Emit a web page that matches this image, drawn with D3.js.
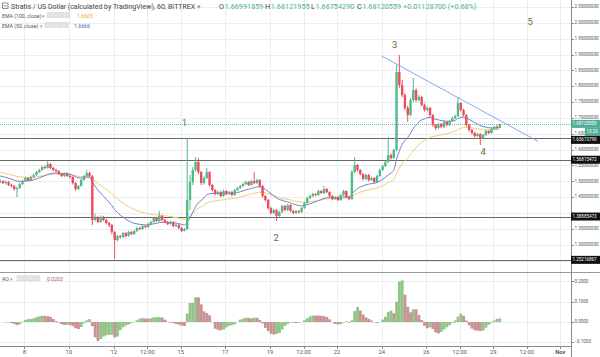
<!DOCTYPE html>
<html><head><meta charset="utf-8">
<script src="https://cdn.jsdelivr.net/npm/d3@7"></script>
<style>body{margin:0;background:#fff} svg{display:block} text{font-family:Roboto,"Open Sans",sans-serif}</style>
</head><body><svg id="c" width="600" height="357"></svg>
<script>
// ---------- DATA (3-hour candles) ----------
const firstTime = "2018-10-06T22:00:00Z";
const firstOpen = 1.4978;
const closes = [
1.5009,1.4946,1.4978,1.4883,1.4852,1.4757,1.4789,1.4915,
1.5009,1.5104,1.5041,1.5136,1.5199,1.5293,1.5356,1.5451,
1.5420,1.5546,1.5420,1.5356,1.5325,1.5230,1.5167,1.5230,
1.5167,1.5136,1.4946,1.4757,1.4852,1.5041,1.5167,1.5262,
1.5167,1.3779,1.3842,1.3716,1.3873,1.3779,1.3684,1.3621,
1.3400,1.3148,1.3274,1.3242,1.3368,1.3274,1.3400,1.3337,
1.3432,1.3526,1.3495,1.3589,1.3558,1.3653,1.3716,1.3842,
1.3747,1.3905,1.3779,1.3716,1.3653,1.3716,1.3589,1.3621,
1.3526,1.3432,1.3495,1.4410,1.4978,1.5356,1.5609,1.5293,
1.4946,1.5104,1.5293,1.4883,1.4725,1.4599,1.4662,1.4536,
1.4694,1.4599,1.4662,1.4568,1.4725,1.4789,1.4852,1.4915,
1.4978,1.4883,1.5009,1.4946,1.5041,1.4852,1.4536,1.4410,
1.4157,1.4000,1.4094,1.3905,1.4031,1.4221,1.4094,1.4252,
1.4063,1.4000,1.4063,1.4031,1.4157,1.4315,1.4473,1.4536,
1.4599,1.4568,1.4694,1.4631,1.4757,1.4662,1.4536,1.4441,
1.4505,1.4410,1.4568,1.4694,1.4505,1.4441,1.5293,1.5514,
1.5356,1.5230,1.5073,1.5199,1.5041,1.5104,1.4978,1.5167,
1.5356,1.5483,1.5609,1.5830,1.5735,1.5988,1.8449,1.8039,
1.7723,1.7313,1.7092,1.7565,1.7881,1.7565,1.7660,1.7408,
1.7250,1.7313,1.7092,1.6777,1.6682,1.6808,1.6713,1.6871,
1.6777,1.6903,1.6997,1.7060,1.7471,1.7250,1.7092,1.6777,
1.6619,1.6524,1.6429,1.6492,1.6366,1.6461,1.6587,1.6524,
1.6650,1.6713,1.6682,1.68120559];
const highs = [
1.5072,1.5041,1.5030,1.5009,1.4930,1.4883,1.4830,1.4960,
1.5050,1.5140,1.5136,1.5180,1.5240,1.5330,1.5400,1.5490,
1.5500,1.5640,1.5580,1.5460,1.5400,1.5360,1.5260,1.5280,
1.5290,1.5200,1.5160,1.4980,1.4890,1.5080,1.5200,1.5356,
1.5300,1.5200,1.3980,1.3900,1.3930,1.3910,1.3820,1.3720,
1.3650,1.3430,1.3320,1.3310,1.3410,1.3400,1.3440,1.3430,
1.3470,1.3560,1.3570,1.3630,1.3620,1.3690,1.3760,1.3880,
1.3870,1.4063,1.3940,1.3810,1.3750,1.3760,1.3740,1.3660,
1.3650,1.3560,1.3530,1.6366,1.5199,1.5451,1.5767,1.5735,
1.5330,1.5160,1.5420,1.5320,1.4920,1.4760,1.4710,1.4700,
1.4740,1.4720,1.4700,1.4690,1.4760,1.4830,1.4890,1.4960,
1.5020,1.5010,1.5050,1.5293,1.5080,1.5070,1.4880,1.4570,
1.4440,1.4190,1.4130,1.4130,1.4070,1.4260,1.4250,1.4290,
1.4280,1.4100,1.4100,1.4090,1.4190,1.4350,1.4510,1.4580,
1.4640,1.4630,1.4740,1.4720,1.4852,1.4790,1.4690,1.4570,
1.4540,1.4540,1.4600,1.4730,1.4720,1.4540,1.5350,1.5767,
1.5550,1.5390,1.5260,1.5240,1.5230,1.5150,1.5130,1.5210,
1.5400,1.5520,1.5650,1.6398,1.5880,1.6030,1.8670,1.8985,
1.8200,1.7780,1.7380,1.7620,1.8260,1.7930,1.7720,1.7700,
1.7450,1.7360,1.7350,1.7120,1.6810,1.6850,1.6840,1.6910,
1.6900,1.6940,1.7040,1.7100,1.7660,1.7500,1.7290,1.7120,
1.6810,1.6650,1.6560,1.6530,1.6520,1.6500,1.6620,1.6610,
1.6690,1.6750,1.6780,1.68121955];
const lows = [
1.4946,1.4915,1.4900,1.4852,1.4800,1.4700,1.4505,1.4760,
1.4880,1.4980,1.5000,1.5010,1.5100,1.5170,1.5260,1.5320,
1.5380,1.5400,1.5390,1.5320,1.5280,1.5200,1.5130,1.5140,
1.5140,1.5090,1.4900,1.4700,1.4730,1.4830,1.5020,1.5140,
1.5120,1.3621,1.3740,1.3680,1.3690,1.3740,1.3640,1.3560,
1.3330,1.2548,1.3100,1.3190,1.3210,1.3230,1.3250,1.3300,
1.3300,1.3400,1.3460,1.3470,1.3520,1.3530,1.3620,1.3690,
1.3710,1.3720,1.3740,1.3680,1.3620,1.3630,1.3550,1.3560,
1.3490,1.3400,1.3420,1.3470,1.4094,1.4880,1.5300,1.5230,
1.4880,1.4900,1.5070,1.4830,1.4680,1.4560,1.4570,1.4500,
1.4510,1.4560,1.4570,1.4530,1.4540,1.4700,1.4760,1.4820,
1.4880,1.4850,1.4860,1.4910,1.4920,1.4810,1.4490,1.4360,
1.4100,1.3950,1.3960,1.3747,1.3880,1.4000,1.4060,1.4060,
1.4030,1.3960,1.3970,1.3990,1.4000,1.4130,1.4290,1.4440,
1.4500,1.4530,1.4540,1.4600,1.4600,1.4630,1.4500,1.4400,
1.4410,1.4370,1.4380,1.4540,1.4470,1.4410,1.4420,1.5260,
1.5310,1.5190,1.5030,1.5040,1.5000,1.5010,1.4940,1.4950,
1.5140,1.5330,1.5450,1.5580,1.5690,1.5700,1.5950,1.7950,
1.7660,1.7250,1.6871,1.7050,1.7500,1.7500,1.7520,1.7360,
1.7200,1.7200,1.7040,1.6720,1.6620,1.6650,1.6670,1.6680,
1.6740,1.6750,1.6870,1.6960,1.7030,1.7200,1.7040,1.6720,
1.6570,1.6480,1.6380,1.6400,1.6145,1.6330,1.6430,1.6490,
1.6500,1.6620,1.6640,1.66754290];

const emaSeeds = [1.519, 1.530];          // EMA50, EMA100 at left edge
const levels = [1.63673790, 1.56815473, 1.38885473, 1.25216867];
const lastPrice = 1.68120559;
const countdown = "13:20";
const trendLine = [["2018-10-24T00:00:00Z", 1.8954], ["2018-10-31T00:00:00Z", 1.6262]];
const waveLabels = [
  ["2018-10-15T04:00:00Z", 1.684, "1"],
  ["2018-10-19T06:30:00Z", 1.321, "2"],
  ["2018-10-24T14:00:00Z", 1.930, "3"],
  ["2018-10-28T13:00:00Z", 1.5925, "4"],
  ["2018-10-30T15:30:00Z", 2.0027, "5"]];
const timeTicks = [
  ["2018-10-08T00:00:00Z","8"],["2018-10-10T00:00:00Z","10"],["2018-10-12T00:00:00Z","12"],
  ["2018-10-13T12:00:00Z","12:00"],["2018-10-15T00:00:00Z","15"],["2018-10-17T00:00:00Z","17"],
  ["2018-10-19T00:00:00Z","19"],["2018-10-20T12:00:00Z","12:00"],["2018-10-22T00:00:00Z","22"],
  ["2018-10-24T00:00:00Z","24"],["2018-10-26T00:00:00Z","26"],["2018-10-27T12:00:00Z","12:00"],
  ["2018-10-29T00:00:00Z","29"],["2018-10-30T12:00:00Z","12:00"],["2018-11-01T00:00:00Z","Nov"]];
const priceTicks = [2.05,2.00,1.95,1.90,1.85,1.80,1.75,1.70,1.65,1.60,1.55,1.50,1.45,1.40,1.35,1.30,1.25];
const aoTicks = [0.2, 0.1, 0, -0.1];
const header = {title:"Stratis / US Dollar (calculated by TradingView), 60, BITTREX",
  ohlc:[["O","1.66991859"],["H","1.68121955"],["L","1.66754290"],["C","1.68120559"]], chg:"+0.01128700 (+0.68%)"};
const emaLegend = [["EMA (100, close)", "1.6605", "#f0a830"], ["EMA (50, close)", "1.6666", "#4a5ec4"]];
const aoLegend = "0.0203";

// ---------- LAYOUT ----------
const W = 600, AX = 571, MAIN_B = 272, AO_B = 346;
const svg = d3.select("#c");
const x = d3.scaleUtc().domain([new Date("2018-10-08T00:00:00Z"), new Date("2018-11-01T00:00:00Z")]).range([24.4, 560.3]);
const y = d3.scaleLinear().domain([1.30, 2.05]).range([244.7, 7]);
const ya = d3.scaleLinear().domain([-0.1, 0.2]).range([342.3, 281.4]);

const t0 = new Date(firstTime).getTime();
const candles = closes.map((c, i) => ({t: new Date(t0 + i * 3 * 3600e3), o: i ? closes[i-1] : firstOpen, c, h: highs[i], l: lows[i]}));
const step = x(candles[1].t) - x(candles[0].t);

// grid
const grid = svg.append("g").attr("stroke", "#e7eef5").attr("stroke-width", 1);
timeTicks.forEach(([t]) => grid.append("line").attr("x1", Math.round(x(new Date(t)))+0.5).attr("x2", Math.round(x(new Date(t)))+0.5).attr("y1", 0).attr("y2", AO_B));
priceTicks.forEach(p => { const yy = Math.round(y(p))+0.5; if (yy < MAIN_B) grid.append("line").attr("x1", 0).attr("x2", AX).attr("y1", yy).attr("y2", yy); });
aoTicks.forEach(v => { const yy = Math.round(ya(v))+0.5; grid.append("line").attr("x1", 0).attr("x2", AX).attr("y1", yy).attr("y2", yy); });

svg.append("clipPath").attr("id", "mc").append("rect").attr("x", 0).attr("y", 0).attr("width", AX).attr("height", MAIN_B);
const main = svg.append("g").attr("clip-path", "url(#mc)");

levels.forEach(v => { const yy = Math.round(y(v)) + 0.5;
  main.append("line").attr("x1", 0).attr("x2", AX).attr("y1", yy).attr("y2", yy).attr("stroke", "#666").attr("stroke-width", 1); });
main.append("line").attr("x1", 0).attr("x2", AX).attr("y1", Math.round(y(lastPrice))+0.5).attr("y2", Math.round(y(lastPrice))+0.5)
  .attr("stroke", "#6fbfae").attr("stroke-dasharray", "1,1");

function ema(period, seed) { const a = 2 / (period + 1); let e = seed; return candles.map(d => { e = e + a * (d.c - e); return {t: d.t, v: e}; }); }
const ema50 = ema(50/3, emaSeeds[0]), ema100 = ema(100/3, emaSeeds[1]);
const ln = d3.line().x(d => x(d.t)).y(d => y(d.v)).curve(d3.curveMonotoneX);
main.append("path").attr("d", ln(ema100)).attr("fill", "none").attr("stroke", "#f5cd72").attr("stroke-width", 1);
main.append("path").attr("d", ln(ema50)).attr("fill", "none").attr("stroke", "#7281cf").attr("stroke-width", 1);

const UP = "#53b987", DN = "#eb4d5c";
const cg = main.append("g");
candles.forEach(d => {
  const cx = x(d.t), col = d.c >= d.o ? UP : DN;
  cg.append("line").attr("x1", cx).attr("x2", cx).attr("y1", y(d.h)).attr("y2", y(d.l)).attr("stroke", col).attr("stroke-width", 1);
  const y1 = y(Math.max(d.o, d.c)), y2 = y(Math.min(d.o, d.c));
  cg.append("rect").attr("x", cx - 1.2).attr("width", 2.4).attr("y", y1).attr("height", Math.max(1, y2 - y1)).attr("fill", col);
});

main.append("line").attr("x1", x(new Date(trendLine[0][0]))).attr("y1", y(trendLine[0][1]))
  .attr("x2", x(new Date(trendLine[1][0]))).attr("y2", y(trendLine[1][1])).attr("stroke", "#86aaea").attr("stroke-width", 1);

waveLabels.forEach(([t, p, s]) => main.append("text").attr("x", x(new Date(t))).attr("y", y(p)).attr("text-anchor", "middle")
  .attr("dominant-baseline", "middle").attr("font-size", 9.5).attr("fill", "#4f7d33").text(s));

// AO computed from the candles (SMA5 - SMA34 of median price; hourly windows -> 3h candles)
const med = candles.map(d => (d.h + d.l) / 2);
const sma = (i, n) => d3.mean(med.slice(Math.max(0, i - n + 1), i + 1));
const ao = med.map((m, i) => sma(i, 2) - sma(i, 11));
const ag = svg.append("g");
ao.forEach((v, i) => {
  const col = (i === 0 || v >= ao[i-1]) ? "#93c48a" : "#c99393";
  const cx = x(candles[i].t), y0 = ya(0), y1 = ya(v);
  ag.append("rect").attr("x", cx - step/2).attr("width", step + 0.1).attr("y", Math.min(y0, y1)).attr("height", Math.abs(y1 - y0)).attr("fill", col);
});

svg.append("line").attr("x1", 0).attr("x2", W).attr("y1", MAIN_B + 0.5).attr("y2", MAIN_B + 0.5).attr("stroke", "#9a9a9a").attr("stroke-width", 1.2);
svg.append("line").attr("x1", 0).attr("x2", AX).attr("y1", AO_B + 0.5).attr("y2", AO_B + 0.5).attr("stroke", "#8a8a8a");
svg.append("line").attr("x1", AX + 0.5).attr("x2", AX + 0.5).attr("y1", 0).attr("y2", 357).attr("stroke", "#8a8a8a");

// tags (with simple push-down collision handling like TradingView)
const fmt8 = d3.format(".8f"), fmt4 = d3.format(".4f");
const tags = [{txt: fmt8(lastPrice), fill: "#4fae96", yy: y(lastPrice)},
              {txt: countdown, fill: "#4fae96", yy: y(lastPrice) + 7.5, x0: 585, w: 15}]
  .concat(levels.map(v => ({txt: fmt8(v), fill: "#111", yy: y(v)})));
tags.sort((a, b) => a.yy - b.yy);
for (let k = 1; k < tags.length; k++) if (tags[k].yy < tags[k-1].yy + 8) tags[k].yy = tags[k-1].yy + 8;

const axisTxt = (xx, yy, s, fill) => svg.append("text").attr("x", xx).attr("y", yy).attr("dominant-baseline", "middle")
  .attr("font-size", 4.5).attr("fill", fill).text(s);

priceTicks.forEach(p => { const yy = y(p); if (yy > MAIN_B - 4) return;
  svg.append("line").attr("x1", AX).attr("x2", AX + 3).attr("y1", Math.round(yy)+0.5).attr("y2", Math.round(yy)+0.5).attr("stroke", "#8a8a8a");
  if (tags.some(t => t.fill === "#111" && Math.abs(t.yy - yy) < 5.5)) return;
  axisTxt(AX + 3.5, yy, fmt8(p), "#555"); });
aoTicks.forEach(v => { const yy = ya(v);
  svg.append("line").attr("x1", AX).attr("x2", AX + 3).attr("y1", Math.round(yy)+0.5).attr("y2", Math.round(yy)+0.5).attr("stroke", "#8a8a8a");
  axisTxt(AX + 3.5, yy, fmt4(v), "#555"); });

tags.forEach(t => { const x0 = t.x0 || AX, w = t.w || (W - AX);
  svg.append("rect").attr("x", x0).attr("y", t.yy - 4).attr("width", w).attr("height", 8).attr("fill", t.fill);
  axisTxt(x0 + 1.6, t.yy + 0.3, t.txt, "#fff"); });

// time axis
timeTicks.forEach(([t, s]) => { const xx = x(new Date(t));
  svg.append("line").attr("x1", Math.round(xx)+0.5).attr("x2", Math.round(xx)+0.5).attr("y1", AO_B).attr("y2", AO_B + 3).attr("stroke", "#8a8a8a");
  svg.append("text").attr("x", xx).attr("y", 352.5).attr("text-anchor", "middle").attr("dominant-baseline", "middle")
    .attr("font-size", 5.8).attr("font-weight", s === "Nov" ? "bold" : "normal").attr("fill", "#555").text(s); });

// header
svg.append("rect").attr("x", 2.5).attr("y", 3).attr("width", 5.5).attr("height", 5.5).attr("fill", "none").attr("stroke", "#777").attr("stroke-width", 0.8);
svg.append("line").attr("x1", 3.5).attr("x2", 7).attr("y1", 5.8).attr("y2", 5.8).attr("stroke", "#777").attr("stroke-width", 0.8);
const ht = svg.append("text").attr("x", 11).attr("y", 8.8).attr("font-size", 7).attr("fill", "#444");
ht.append("tspan").text(header.title);
ht.append("tspan").attr("fill", "#999").text(" ▾");
header.ohlc.forEach(([k, v], i) => {
  const t = svg.append("text").attr("x", 219 + i * 46).attr("y", 8.8).attr("font-size", 7.3).attr("fill", "#444");
  t.append("tspan").text(k); t.append("tspan").attr("fill", "#4fae96").attr("dx", 0.6).text(v); });
svg.append("text").attr("x", 403).attr("y", 8.8).attr("font-size", 7.3).attr("fill", "#4fae96").text(header.chg);

function legendRow(yy, label, val, col, valX, iconX) {
  const t = svg.append("text").attr("x", 2).attr("y", yy).attr("font-size", 5.2).attr("fill", "#555");
  t.append("tspan").text(label); t.append("tspan").attr("fill", "#999").text(" ▾");
  for (let k = 0; k < 4; k++) svg.append("rect").attr("x", iconX + k * 6).attr("y", yy - 5).attr("width", 5).attr("height", 5)
    .attr("fill", "#e4e4e4").attr("stroke", "#cfcfcf").attr("stroke-width", 0.5);
  svg.append("text").attr("x", valX).attr("y", yy).attr("font-size", 5.2).attr("fill", col).text(val);
}
legendRow(17.6, emaLegend[0][0], emaLegend[0][1], emaLegend[0][2], 77, 47);
legendRow(27.6, emaLegend[1][0], emaLegend[1][1], emaLegend[1][2], 74, 45);
legendRow(280.8, "AO", aoLegend, "#b35858", 47, 17);
</script></body></html>
